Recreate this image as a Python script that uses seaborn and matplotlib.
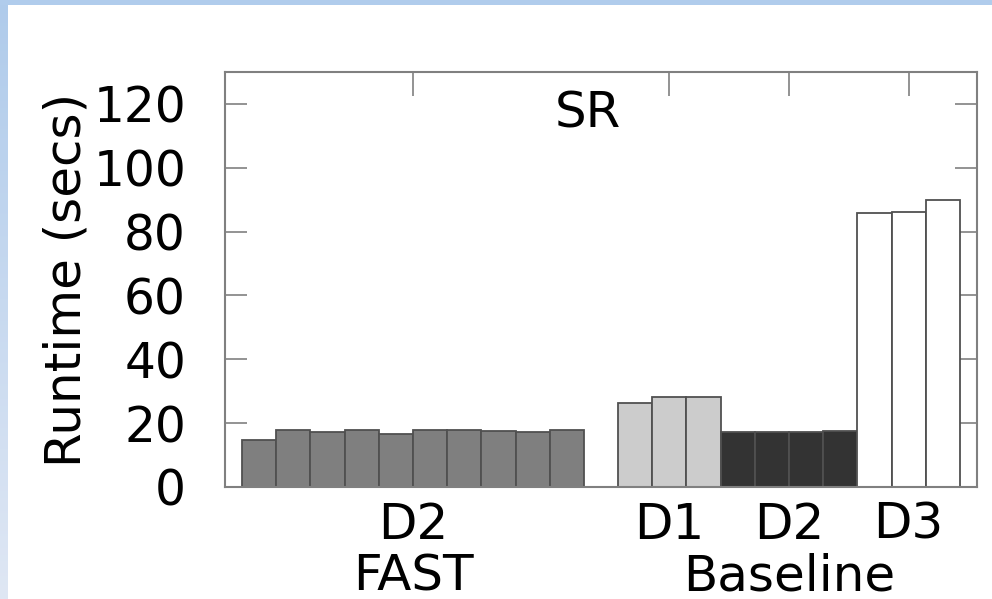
import numpy as np
import pandas as pd
import matplotlib
matplotlib.use("Agg")
import matplotlib.pyplot as plt
import seaborn as sns

# runtimes (secs)
fast_d2 = [14.7, 17.9, 17.3, 17.9, 16.7, 17.8, 17.8, 17.4, 17.3, 17.8]
base_d1 = [26.2, 28.3, 28.3]
base_d2 = [17.3, 17.3, 17.3, 17.4]
base_d3 = [85.8, 86.1, 90.0]

group_labels = ["D2", "D1", "D2", "D3"]
y_ticks = [0, 20, 40, 60, 80, 100, 120]

series = [("fast_d2", fast_d2), ("base_d1", base_d1),
          ("base_d2", base_d2), ("base_d3", base_d3)]
colori = {"fast_d2": "#7f7f7f", "base_d1": "#cccccc",
          "base_d2": "#333333", "base_d3": "#ffffff"}

righe = []
for nome, valori in series:
    for i, v in enumerate(valori):
        righe.append({"barra": f"{nome}_{i}", "serie": nome, "valore": v})
df = pd.DataFrame(righe)

# ordine delle barre, con uno slot vuoto tra FAST e Baseline
ordine = [f"fast_d2_{i}" for i in range(len(fast_d2))] + ["vuoto"]
for nome, valori in series[1:]:
    ordine += [f"{nome}_{i}" for i in range(len(valori))]

sns.set_style("white")
plt.rcParams["font.family"] = ["DejaVu Sans"]
plt.rcParams["text.color"] = "black"
plt.rcParams["axes.labelcolor"] = "black"

fig = plt.figure(figsize=(9.92, 5.99), dpi=100)
ax = fig.add_axes([225 / 992, 1 - 487 / 599, 752 / 992, 415 / 599])

sns.barplot(data=df, x="barra", y="valore", hue="serie", order=ordine,
            palette=colori, dodge=False, width=1.0, legend=False,
            edgecolor="#505050", linewidth=1.3, saturation=1, ax=ax)

ax.set_xlim(-1, len(ordine))
ax.set_ylim(0, 130)

# tick al centro di ogni gruppo
centri = []
for nome, valori in series:
    idx = [ordine.index(f"{nome}_{i}") for i in range(len(valori))]
    centri.append(np.mean(idx))
ax.set_xticks(centri)
ax.set_xticklabels(group_labels, fontsize=36)
ax.set_yticks(y_ticks)
ax.set_yticklabels([str(t) for t in y_ticks], fontsize=35)

ax.tick_params(axis="x", bottom=False, top=True, direction="in",
               length=17, width=1.2, color="#808080", labelcolor="black", pad=10)
ax.tick_params(axis="y", left=True, right=True, direction="in",
               length=16, width=1.2, color="#808080", labelcolor="black", pad=28)

for s in ax.spines.values():
    s.set_color("#808080")
    s.set_linewidth(1.5)

ax.set_xlabel("")
ax.set_ylabel("Runtime (secs)", fontsize=36, labelpad=2)

ax.text(np.mean(centri[:1]), -0.215, "FAST", fontsize=36, ha="center", va="center",
        transform=ax.get_xaxis_transform())
ax.text(np.mean(centri[1:]), -0.215, "Baseline", fontsize=36, ha="center", va="center",
        transform=ax.get_xaxis_transform())
ax.text(0.483, 0.90, "SR", fontsize=36, ha="center", va="center",
        transform=ax.transAxes)

# cornice azzurra (bordo sinistro con sfumatura, banda in alto)
bordo = fig.add_axes([0, 0, 8 / 992, 1])
grad = np.linspace(0, 1, 256).reshape(-1, 1)
cmap = matplotlib.colors.LinearSegmentedColormap.from_list("b", ["#afcbeb", "#dfe7f4"])
bordo.imshow(grad, aspect="auto", cmap=cmap)
bordo.axis("off")
banda = fig.add_axes([0, 1 - 5 / 599, 1, 5 / 599])
banda.set_facecolor("#b0ccec")
banda.set_xticks([])
banda.set_yticks([])
for s in banda.spines.values():
    s.set_visible(False)

fig.savefig("out.png", dpi=100)
